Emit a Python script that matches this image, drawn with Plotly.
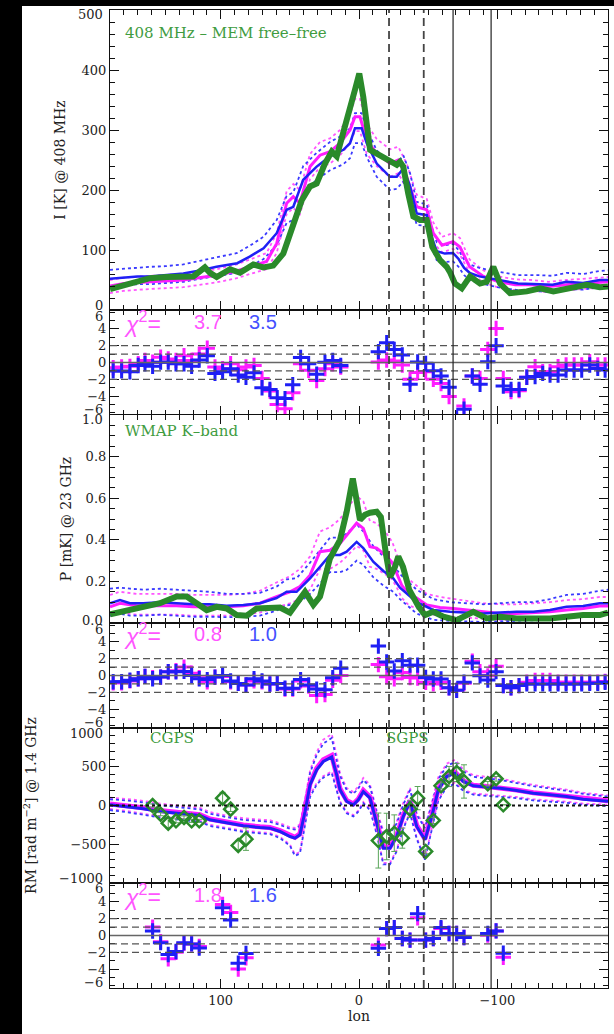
import plotly.graph_objects as go
from plotly.subplots import make_subplots

# ---------------- Panel 1 : I [K] @ 408 MHz ----------------
i_blue_lon = [180,170,160,151,140,127,115,103,88,79,69,59.5,52.3,47.5,40.3,30.6,21,11.3,6.5,2.9,-1.9,-5.6,-12.8,-22.4,-27.3,-32,-36.9,-41.7,-49,-52,-56.2,-62,-68,-72,-76,-80,-87,-100,-115,-131,-140,-150,-162,-174,-180]
i_blue = [52,54,56,56,58,61,66,72,78,89,103,128,167,172,217,239,256,267,278,303,303,278,244,222,222,236,206,161,158,125,98,94,95,85,70,62,56,50,44,43,42,47,45,50,50]
i_blue_hi = [67,69,71,72,73,76,82,88,95,107,122,150,190,196,240,262,280,292,303,328,328,302,266,245,243,258,228,180,176,142,113,108,110,100,84,76,70,64,58,58,57,62,60,65,66]
i_blue_lo = [40,42,43,43,45,47,52,57,62,72,85,108,145,150,195,217,233,243,253,278,278,255,222,200,202,214,185,142,140,108,83,80,81,72,58,50,45,38,33,31,30,35,34,38,38]

i_mag_lon = [180,170,151,127,103,88.4,78.8,66.8,59.5,52.3,47.5,42.7,35.4,28.2,21,13.7,6.5,2.9,-0.7,-5.6,-12.8,-22.4,-28.4,-34.5,-41.7,-49,-53.7,-60,-68,-73,-80,-90,-101,-113,-125,-137,-150,-162,-174,-180]
i_mag = [40,44,47,50,58,65,72,81,111,178,189,178,239,258,264,278,300,322,322,283,261,244,250,222,172,167,128,108,114,105,72,56,47,42,42,39,42,44,47,47]
i_mag_hi = [50,54,57,60,68,76,84,95,128,198,210,200,260,280,286,300,325,352,352,310,285,268,272,244,192,185,146,122,128,120,84,66,56,51,50,47,50,52,55,55]
i_mag_lo = [28,32,35,38,46,53,60,68,95,160,170,160,218,238,244,258,278,298,298,260,240,222,228,202,155,150,112,96,102,92,62,46,37,33,32,30,33,35,38,38]

i_green_lon = [180,172,165.6,160,151.1,139,127,119.8,111.4,107.7,102.9,93.3,86,76.4,69.2,62,54.7,47.5,41.4,35.4,30.6,24.6,19.7,16.1,11.3,6.5,2.9,-0.2,-3.1,-8,-12.8,-17.6,-22.4,-27.3,-29.6,-32,-35.6,-39.3,-44.1,-49,-53,-58.6,-63.4,-66,-69.4,-74.3,-80.3,-87.5,-92.3,-97.1,-102,-109.2,-121.3,-131,-140.5,-150.2,-164.6,-174,-180]
i_green = [35,40,45,48,53,55,55,56,71,62,55,68,62,76,71,74,94,139,183,206,211,244,264,256,294,339,367,394,355,267,261,256,250,242,247,239,194,156,150,150,105,83,72,62,44,36,56,44,47,72,44,28,31,36,31,36,42,38,39]

# ---------------- Panel 3 : P [mK] @ 23 GHz ----------------
p_blue_lon = [180,172.8,165.6,156,143.9,131.8,119.8,107.8,95.7,83.6,71.6,59.6,52.3,45.1,35.4,28.2,21,13.7,8.9,1.7,-3.1,-10.3,-17.6,-24.8,-29.6,-41.7,-53.7,-65.8,-77.9,-89.9,-102,-114,-126,-138,-150,-162,-174,-180]
p_blue = [0.095,0.11,0.095,0.095,0.10,0.095,0.09,0.09,0.083,0.087,0.095,0.12,0.15,0.15,0.215,0.27,0.327,0.327,0.343,0.39,0.36,0.295,0.25,0.215,0.17,0.10,0.0625,0.054,0.05,0.046,0.05,0.054,0.054,0.0625,0.078,0.082,0.095,0.095]
p_blue_hi = [0.165,0.17,0.165,0.16,0.165,0.16,0.155,0.15,0.14,0.14,0.145,0.175,0.21,0.215,0.29,0.35,0.41,0.41,0.43,0.475,0.44,0.37,0.32,0.28,0.235,0.16,0.115,0.1,0.095,0.09,0.095,0.1,0.1,0.115,0.135,0.14,0.155,0.16]
p_blue_lo = [0.035,0.045,0.035,0.035,0.04,0.035,0.03,0.03,0.028,0.03,0.035,0.06,0.085,0.09,0.14,0.19,0.245,0.245,0.255,0.3,0.28,0.22,0.18,0.15,0.115,0.045,0.015,0.01,0.008,0.005,0.008,0.01,0.01,0.015,0.025,0.03,0.04,0.04]

p_mag_lon = [180,172.8,160.8,143.9,131.8,119.8,107.8,95.7,83.6,71.6,59.6,49.9,42.7,35.4,28.2,21,13.7,8.9,1.7,-3.1,-7.9,-12.8,-20,-24,-27.3,-31,-36,-41.7,-49,-58.5,-68.2,-77.9,-89.9,-102,-114,-126,-138,-150,-162,-174,-180]
p_mag = [0.078,0.095,0.083,0.083,0.083,0.078,0.078,0.078,0.083,0.095,0.127,0.15,0.175,0.23,0.343,0.35,0.383,0.423,0.48,0.455,0.367,0.36,0.32,0.29,0.24,0.18,0.14,0.12,0.087,0.075,0.07,0.0625,0.054,0.046,0.046,0.05,0.054,0.0625,0.07,0.082,0.082]
p_mag_hi = [0.135,0.15,0.14,0.14,0.14,0.135,0.135,0.135,0.14,0.155,0.195,0.225,0.26,0.32,0.44,0.46,0.5,0.55,0.61,0.585,0.49,0.48,0.43,0.39,0.33,0.26,0.21,0.18,0.14,0.125,0.115,0.105,0.095,0.09,0.09,0.095,0.1,0.11,0.115,0.125,0.125]
p_mag_lo = [0.035,0.05,0.04,0.04,0.04,0.035,0.035,0.035,0.04,0.05,0.075,0.095,0.115,0.16,0.26,0.26,0.29,0.32,0.37,0.35,0.27,0.26,0.23,0.21,0.17,0.12,0.085,0.07,0.045,0.035,0.03,0.025,0.02,0.015,0.015,0.018,0.02,0.025,0.03,0.04,0.04]

p_green_lon = [180,168,156,143.9,131.8,124.6,117.4,110.1,102.9,95.7,88.4,81.2,74,64.4,57.1,49.9,45,39,33,28.2,21,13.7,8.9,4.5,2.5,-0.7,-4.3,-8,-12.8,-15.8,-19.5,-22.4,-26,-28.4,-31.8,-36.3,-43,-47.7,-53.7,-61,-70.6,-77.9,-82.6,-92.3,-102,-114,-126,-138,-150,-162,-174,-180]
p_green = [0.042,0.062,0.078,0.095,0.127,0.127,0.095,0.062,0.078,0.07,0.038,0.035,0.07,0.07,0.074,0.05,0.10,0.15,0.087,0.127,0.31,0.40,0.535,0.695,0.62,0.495,0.52,0.53,0.535,0.51,0.33,0.22,0.27,0.32,0.27,0.16,0.08,0.038,0.054,0.03,0.014,0.038,0.054,0.022,0.03,0.022,0.022,0.022,0.03,0.038,0.038,0.05]

# ---------------- Panel 5 : RM ----------------
rm_lon = [180,168,156,143.9,131.8,119.8,115,107.8,95.7,83.6,71.6,64.4,57.1,49.9,46.3,42.7,39,35.4,30.6,25.8,19.7,16.1,13.7,8.9,4.1,0.5,-3.1,-8,-12.8,-17.6,-22.4,-27.3,-32,-36.9,-41.7,-47.7,-52.6,-57.3,-63.4,-69.4,-75.4,-82.6,-92.3,-102,-114,-126,-138,-150,-162,-174,-180]
rm_blue = [9,-13,-43,-77,-99,-120,-129,-185,-228,-262,-284,-292,-335,-400,-421,-378,-77,267,460,568,625,395,202,52,9,73,180,95,-228,-550,-550,-400,-142,52,-271,-443,-142,202,374,417,310,254,237,224,194,159,138,116,82,65,56]
rm_blue_hi = [80,65,40,5,-20,-40,-50,-105,-150,-185,-205,-210,-250,-300,-310,-260,60,420,650,800,870,600,380,200,150,220,330,240,-90,-360,-360,-230,10,200,-120,-290,10,340,510,560,440,370,350,330,290,250,220,190,150,125,115]
rm_blue_lo = [-60,-85,-120,-155,-180,-200,-210,-265,-305,-340,-360,-370,-420,-520,-650,-620,-250,110,270,360,420,200,40,-100,-140,-80,30,-60,-370,-760,-760,-590,-300,-100,-430,-700,-300,60,240,280,190,140,125,115,95,65,50,35,10,0,-5]
rm_mag = [20,0,-30,-65,-90,-110,-120,-175,-218,-252,-275,-285,-325,-390,-410,-365,-60,285,480,590,645,410,215,65,20,85,195,110,-210,-530,-535,-385,-125,65,-255,-430,-125,215,390,430,320,262,245,232,200,165,143,120,86,68,60]
rm_mag_hi = [100,85,60,25,0,-20,-30,-85,-130,-165,-185,-190,-230,-280,-290,-240,80,450,690,850,920,640,410,225,175,245,355,265,-65,-330,-330,-205,35,225,-95,-265,35,365,540,590,465,390,370,350,305,265,235,205,165,140,130]
rm_mag_lo = [-45,-70,-105,-140,-165,-185,-195,-250,-290,-325,-345,-355,-405,-505,-630,-600,-230,130,290,380,440,220,55,-85,-125,-65,45,-45,-355,-740,-740,-570,-285,-85,-415,-680,-285,75,255,295,205,155,140,130,110,80,65,50,25,15,10]

rm_obs_lon = [149.2,143.4,137.9,132.3,126.5,121.0,115.5,98.6,92.8,87.3,81.7,-14.0,-20.0,-25.5,-31.3,-36.9,-42.4,-48.2,-53.7,-59.3,-65.1,-70.6,-75.9,-93.1,-99.1,-104.3]
rm_obs = [0,-112,-228,-198,-155,-198,-198,95,-47,-516,-434,-452,-400,-357,-421,-47,95,-593,-193,254,374,426,310,280,344,9]
rm_obs_err = [20,20,60,25,20,20,20,75,30,60,145,355,300,236,130,107,150,30,40,40,130,118,215,30,30,0]

# ---------------- Residual panels ----------------
res_lon = [177.7,171.6,165.6,159.6,154.7,149.2,143.4,137.9,132.3,126.5,121.0,115.5,109.7,104.1,98.6,92.8,87.3,81.7,75.9,70.1,64.4,59.1,53.5,47.9,42.2,36.4,30.6,24.6,19.0,13.2,
           -14.0,-20.0,-25.5,-31.3,-36.9,-42.4,-48.2,-53.7,-59.3,-65.1,-70.6,-75.9,-81.9,-87.5,-93.1,-99.1,-104.3,-109.9,-115.7,-121.3,-127.3,-132.8,-138.1,-143.9,-149.7,-155.5,-161.0,-166.8,-172.6,-177.9]
res_i_mag = [-0.62,-0.54,-0.46,-0.15,0.23,0.04,0.62,0.42,0.23,0.8,0.23,1.0,1.7,-0.54,-0.73,-0.15,-0.85,-0.54,-0.35,-1.9,-3.4,-5.0,-5.5,-3.6,-0.15,-0.92,-2.15,-0.73,-0.15,-0.54,
             0.06,0.3,0.18,-0.3,-2.0,-1.2,-1.1,-2.0,-2.5,-4.06,-6.9,-5.17,-1.6,-1.9,1.56,4.06,-1.9,-3.47,-3.35,-1.76,-0.5,-1.1,-1.1,-0.5,-0.3,-0.3,-0.3,0.1,-0.3,-0.3]
res_i_blue = [-1.0,-1.0,-1.1,-0.35,-0.15,-0.46,0.04,0.04,-0.15,-0.15,-0.46,0.3,0.8,-1.3,-1.1,-0.73,-1.5,-1.77,-1.23,-3.0,-3.2,-4.2,-4.3,-2.65,0.6,-0.15,-1.4,0.04,0.23,-0.35,
              1.29,2.36,1.56,0.9,-2.6,0.06,-0.1,-0.97,-1.6,-2.95,-6.6,-5.56,-1.6,-2.6,0.1,2.0,-2.8,-3.2,-3.2,-1.76,-1.68,-1.3,-1.5,-1.5,-0.9,-0.9,-0.9,-0.3,-0.7,-0.9]
res_p_mag = [-0.87,-0.87,-0.64,-0.38,-0.11,-0.26,-0.19,0.45,0.57,1.0,0.26,-0.26,-0.75,-0.19,-0.11,-0.75,-0.94,-1.13,-0.64,-0.75,-1.02,-0.94,-1.62,-1.62,-0.64,-1.25,-2.38,-2.26,-0.57,0.0,
             1.3,-0.15,-0.4,0.35,-0.23,-0.3,-0.8,-1.0,-0.8,-1.46,-1.77,-0.92,1.7,0.46,-0.04,1.1,-1.2,-1.46,-1.2,-0.8,-0.6,-0.6,-0.6,-0.8,-0.8,-0.8,-0.8,-0.8,-0.8,-0.7]
res_p_blue = [-0.75,-0.75,-0.57,-0.38,-0.11,-0.38,-0.19,0.45,0.45,0.49,0.0,-0.38,-0.49,-0.19,0.0,-0.64,-0.94,-1.13,-0.38,-0.64,-1.02,-0.94,-1.51,-1.51,-0.49,-1.13,-1.62,-1.7,-0.26,0.87,
              3.5,1.6,0.54,1.77,1.23,1.23,-0.23,-0.42,-0.42,-1.46,-1.77,-0.8,1.5,-0.04,-0.54,0.46,-1.2,-1.46,-1.2,-1.0,-1.0,-1.0,-1.0,-1.0,-1.0,-1.0,-1.0,-0.92,-0.92,-0.8]
res_rm_mag = [1.0,-0.73,-2.77,-2.0,-0.92,-1.0,-1.3,3.7,2.73,-4.0,-2.65,
              -1.14,0.82,0.94,-0.35,-0.55,2.1,-0.55,-0.35,0.82,0.24,0.24,-0.24,0.04,0.55,-2.6]
res_rm_blue = [0.54,-0.85,-2.27,-1.9,-0.85,-1.0,-1.5,3.3,1.85,-3.3,-2.15,
               -1.53,0.82,0.94,-0.35,-0.55,2.6,-0.55,-0.35,0.94,0.24,0.24,-0.24,0.24,0.55,-2.1]

chi2_labels = [("3.7", "3.5"), ("0.8", "1.0"), ("1.8", "1.6")]
vlines_dashed = [-21.7, -46.8]
vlines_solid = [-68.0, -95.5]

# ---------------- styling ----------------
MAG = "#ff1cff"
MAG_D = "#ff55ff"
BLUE = "#1f1ff5"
BLUE_D = "#3a3aff"
GREEN = "#2a8a2a"
GREEN_T = "#3f9c3f"
SERIF = "DejaVu Serif"
TICKFONT = dict(family=SERIF, size=13, color="#222")

fig = make_subplots(rows=6, cols=1, shared_xaxes=True, vertical_spacing=0,
                    row_heights=[300, 105, 208, 105, 155, 105])


def line(x, y, color, width, row, dash=None):
    fig.add_trace(go.Scatter(x=x, y=y, mode="lines",
                             line=dict(color=color, width=width, dash=dash),
                             showlegend=False, hoverinfo="skip"), row=row, col=1)


def crosses(x, y, color, row):
    fig.add_trace(go.Scatter(x=x, y=y, mode="markers",
                             marker=dict(symbol="cross-thin", size=11, color=color,
                                         line=dict(color=color, width=3)),
                             showlegend=False, hoverinfo="skip"), row=row, col=1)


# Panel 1
line(i_mag_lon, i_mag_hi, MAG_D, 1.8, 1, "dot")
line(i_mag_lon, i_mag_lo, MAG_D, 1.8, 1, "dot")
line(i_blue_lon, i_blue_hi, BLUE_D, 1.8, 1, "dot")
line(i_blue_lon, i_blue_lo, BLUE_D, 1.8, 1, "dot")
line(i_mag_lon, i_mag, MAG, 3, 1)
line(i_blue_lon, i_blue, BLUE, 2.5, 1)
line(i_green_lon, i_green, GREEN, 6, 1)

# Panel 3
line(p_mag_lon, p_mag_hi, MAG_D, 1.8, 3, "dot")
line(p_mag_lon, p_mag_lo, MAG_D, 1.8, 3, "dot")
line(p_blue_lon, p_blue_hi, BLUE_D, 1.8, 3, "dot")
line(p_blue_lon, p_blue_lo, BLUE_D, 1.8, 3, "dot")
line(p_mag_lon, p_mag, MAG, 3, 3)
line(p_blue_lon, p_blue, BLUE, 2.5, 3)
line(p_green_lon, p_green, GREEN, 6, 3)

# Panel 5
line(rm_lon, rm_mag_hi, MAG_D, 1.8, 5, "dot")
line(rm_lon, rm_mag_lo, MAG_D, 1.8, 5, "dot")
line(rm_lon, rm_blue_hi, BLUE_D, 1.8, 5, "dot")
line(rm_lon, rm_blue_lo, BLUE_D, 1.8, 5, "dot")
line(rm_lon, rm_mag, MAG, 5, 5)
line(rm_lon, rm_blue, BLUE, 3, 5)
fig.add_trace(go.Scatter(x=rm_obs_lon, y=rm_obs, mode="markers",
                         marker=dict(symbol="diamond-open", size=10, color=GREEN,
                                     line=dict(color=GREEN, width=2.5)),
                         error_y=dict(type="data", array=rm_obs_err, color="#5aa55a",
                                      thickness=1, width=3),
                         showlegend=False, hoverinfo="skip"), row=5, col=1)

# Residual panels
crosses(res_lon, res_i_mag, MAG, 2)
crosses(res_lon, res_i_blue, BLUE, 2)
crosses(res_lon, res_p_mag, MAG, 4)
crosses(res_lon, res_p_blue, BLUE, 4)
crosses(rm_obs_lon, res_rm_mag, MAG, 6)
crosses(rm_obs_lon, res_rm_blue, BLUE, 6)

# Axes
axis_common = dict(showline=True, linecolor="#111", linewidth=1.2, mirror="ticks",
                   ticks="inside", ticklen=9, tickwidth=1.1, tickcolor="#111",
                   showgrid=False, zeroline=False, tickfont=TICKFONT)
fig.update_xaxes(range=[180, -180], tick0=0, dtick=100,
                 minor=dict(ticks="inside", ticklen=5, tickcolor="#111", tick0=0, dtick=10),
                 **axis_common)
fig.update_yaxes(**axis_common)
fig.update_xaxes(title=dict(text="lon", font=dict(family=SERIF, size=14, color="#222"), standoff=2),
                 row=6, col=1)

title_font = dict(family=SERIF, size=14, color="#222")
fig.update_yaxes(range=[0, 500], tickvals=[100, 200, 300, 400],
                 minor=dict(ticks="inside", ticklen=5, dtick=20, tick0=0, tickcolor="#111"),
                 title=dict(text="I [K] @ 408 MHz", font=title_font, standoff=12), row=1, col=1)
fig.update_yaxes(range=[0, 1], tickvals=[0.2, 0.4, 0.6, 0.8], tickformat=".1f",
                 minor=dict(ticks="inside", ticklen=5, dtick=0.05, tick0=0, tickcolor="#111"),
                 title=dict(text="P [mK] @ 23 GHz", font=title_font, standoff=10), row=3, col=1)
fig.update_yaxes(range=[-1000, 1000], tickvals=[-500, 0, 500],
                 minor=dict(ticks="inside", ticklen=5, dtick=100, tick0=0, tickcolor="#111"),
                 title=dict(text="RM [rad m<sup>−2</sup>] @ 1.4 GHz", font=title_font, standoff=30), row=5, col=1)
for r in (2, 4, 6):
    fig.update_yaxes(range=[-6.25, 6.25], tickvals=[-4, -2, 0, 2, 4],
                     minor=dict(ticks="inside", ticklen=5, dtick=1, tick0=0, tickcolor="#111"),
                     row=r, col=1)

shapes = []
# residual reference lines
for ax in ("y2", "y4", "y6"):
    for v in (-2, -1, 1, 2):
        shapes.append(dict(type="line", xref="paper", x0=0, x1=1, yref=ax, y0=v, y1=v,
                           line=dict(color="#555", width=1.3, dash="7px,4px")))
    shapes.append(dict(type="line", xref="paper", x0=0, x1=1, yref=ax, y0=0, y1=0,
                       line=dict(color="#666", width=1.5)))
# RM zero line
shapes.append(dict(type="line", xref="paper", x0=0, x1=1, yref="y5", y0=0, y1=0,
                   line=dict(color="#111", width=2, dash="dot")))
# vertical markers
for v in vlines_dashed:
    shapes.append(dict(type="line", xref="x", x0=v, x1=v, yref="paper", y0=0, y1=1,
                       line=dict(color="#444", width=1.8, dash="8px,5px")))
for v in vlines_solid:
    shapes.append(dict(type="line", xref="x", x0=v, x1=v, yref="paper", y0=0, y1=1,
                       line=dict(color="#222", width=1.2)))
# black frame strips of the original image
shapes.append(dict(type="rect", xref="paper", yref="paper", x0=-0.23, x1=-0.1767,
                   y0=-0.06, y1=1.02, fillcolor="black", line=dict(width=0)))
shapes.append(dict(type="rect", xref="paper", yref="paper", x0=-0.23, x1=1.02,
                   y0=1.0041, y1=1.02, fillcolor="black", line=dict(width=0)))

ann = []
# edge tick labels, nudged inward as in the original
edge_labels = [("y", 500, "500", -4), ("y", 0, "0", 5),
               ("y2", 6, "6", -4), ("y2", -6, "−6", 3),
               ("y3", 1, "1.0", -5), ("y3", 0, "0.0", 3),
               ("y4", 6, "6", -4), ("y4", -6, "−6", 3),
               ("y5", 1000, "1000", -5), ("y5", -1000, "−1000", 5),
               ("y6", 6, "6", -3), ("y6", -6, "−6", 3)]
for yref, val, txt, shift in edge_labels:
    ann.append(dict(text=txt, xref="paper", yref=yref, x=0, y=val, xanchor="right",
                    yanchor="middle", xshift=-5, yshift=shift, showarrow=False, font=TICKFONT))

ann.append(dict(text="408 MHz – MEM free–free", xref="paper", yref="paper", x=0.026, y=0.9765,
                xanchor="left", yanchor="middle", showarrow=False,
                font=dict(family=SERIF, size=15, color=GREEN_T)))
ann.append(dict(text="WMAP K–band", xref="paper", yref="paper", x=0.026, y=0.5695,
                xanchor="left", yanchor="middle", showarrow=False,
                font=dict(family=SERIF, size=15, color=GREEN_T)))
ann.append(dict(text="CGPS", xref="paper", yref="paper", x=0.1245, y=0.2556,
                xanchor="center", yanchor="middle", showarrow=False,
                font=dict(family=SERIF, size=15, color=GREEN_T)))
ann.append(dict(text="SGPS", xref="paper", yref="paper", x=0.5964, y=0.2556,
                xanchor="center", yanchor="middle", showarrow=False,
                font=dict(family=SERIF, size=15, color=GREEN_T)))
for yy, (a, b) in zip((0.681, 0.362, 0.0951), chi2_labels):
    ann.append(dict(text="<i>χ</i><sup>2</sup>=", xref="paper", yref="paper", x=0.024, y=yy,
                    xanchor="left", yanchor="middle", showarrow=False,
                    font=dict(family="Liberation Sans", size=23, color=MAG_D)))
    ann.append(dict(text=a, xref="paper", yref="paper", x=0.1647, y=yy,
                    xanchor="left", yanchor="middle", showarrow=False,
                    font=dict(family="Liberation Sans", size=20, color=MAG_D)))
    ann.append(dict(text=b, xref="paper", yref="paper", x=0.2751, y=yy,
                    xanchor="left", yanchor="middle", showarrow=False,
                    font=dict(family="Liberation Sans", size=20, color="#4450ff")))

fig.update_layout(width=614, height=1034,
                  margin=dict(l=110, r=6, t=10, b=46),
                  paper_bgcolor="white", plot_bgcolor="white",
                  shapes=shapes, annotations=ann, showlegend=False)

fig.write_html("out.html")
